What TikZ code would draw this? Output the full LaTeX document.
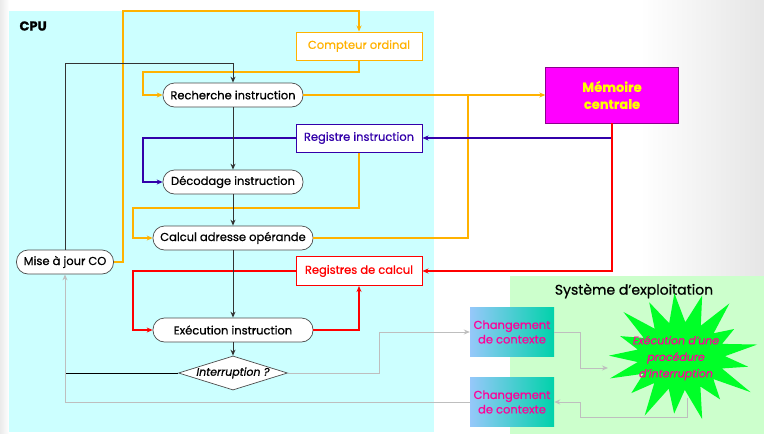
\documentclass[tikz,border=0pt]{standalone}
\usepackage{fontspec}
\setmainfont{Poppins}[FakeBold=0.7]
\usetikzlibrary{arrows.meta,shapes.geometric,calc}
\definecolor{cpubg}{RGB}{204,255,255}
\definecolor{osbg}{RGB}{204,255,204}
\definecolor{orng}{RGB}{255,178,0}
\definecolor{indg}{RGB}{51,0,170}
\definecolor{rred}{RGB}{255,0,0}
\definecolor{gline}{RGB}{190,190,190}
\definecolor{magc}{RGB}{255,0,255}
\definecolor{ylw}{RGB}{255,255,0}
\definecolor{pinkt}{RGB}{255,0,153}
\definecolor{chL}{RGB}{150,200,250}
\definecolor{chR}{RGB}{0,210,170}
\definecolor{starc}{RGB}{0,255,40}
\begin{document}
\begin{tikzpicture}[x=1pt,y=-1pt,
  txt/.style={font=\fontsize{11.5}{13}\selectfont},
  flow/.style={txt,draw=black!70,fill=white,rounded corners=11.5pt,minimum height=24pt,inner sep=0pt,line width=0.7pt},
  reg/.style={txt,draw,fill=white,minimum width=126pt,minimum height=28pt,inner sep=0pt,line width=1pt},
  chbox/.style={left color=chL,right color=chR,minimum width=84pt,minimum height=49pt,inner sep=0pt,align=center,text=pinkt,font=\fontsize{11.5}{14.5}\selectfont},
  tip/.style={-{Stealth[length=6pt,width=5pt]}},
  ol/.style={orng,line width=2pt,tip},
  pl/.style={indg,line width=2pt,tip},
  rl/.style={rred,line width=2pt,tip},
  bl/.style={black!80,line width=0.9pt,tip},
  gl/.style={gline,line width=1pt,tip}]
\useasboundingbox (0,0) rectangle (764,434);
\fill[white] (0,0) rectangle (764,434);
\shade[left color=white,right color=black!10] (640,0) rectangle (764,434);
\shade[left color=black!8,right color=white] (0,0) rectangle (9,434);
\fill[cpubg] (9,11) rectangle (434,432);
\fill[osbg] (510,276) rectangle (764,434);
\node[anchor=west,font=\fontsize{13}{15}\selectfont\bfseries] (cpu) at (16,26) {CPU};
\node[font=\fontsize{14}{16}\selectfont] (se) at (634,291) {Système d’exploitation};

% nodes
\node[reg,draw=orng,text=orng] (co) at (359,46) {Compteur ordinal};
\node[reg,draw=indg,text=indg] (ri) at (359,138) {Registre instruction};
\node[reg,draw=rred,text=rred,minimum height=29pt] (rc) at (359,271) {Registres de calcul};
\node[flow,minimum width=140pt] (rech) at (233,95) {Recherche instruction};
\node[flow,minimum width=140pt] (deco) at (233,182) {Décodage instruction};
\node[flow,minimum width=160pt] (calc) at (233,238) {Calcul adresse opérande};
\node[flow,minimum width=160pt] (exec) at (233,330) {Exécution instruction};
\node[flow,minimum width=97pt] (maj) at (65,262) {Mise à jour CO};
\node[diamond,aspect=3.2,draw=black!70,fill=white,inner sep=0pt,line width=0.7pt,font=\fontsize{11}{13}\selectfont\itshape] (inter) at (233,373) {Interruption ?};
\node[draw=magc!55!black,fill=magc,text=ylw,minimum width=133pt,minimum height=56pt,align=center,font=\fontsize{13}{17}\selectfont\bfseries] (mem) at (612,95) {Mémoire\\centrale};
\node[chbox] (ch1) at (512,332) {Changement\\de contexte};
\node[chbox] (ch2) at (512,402) {Changement\\de contexte};

\coordinate (j) at (468,95);
\coordinate (sw) at (608,368);
\coordinate (sb) at (687,398);

% orange
\draw[ol] (maj.east) -| (123,11) -| (co.north);
\draw[ol] (co.south) |- (143,72) |- (rech.west);
\draw[ol] (rech.east) -- (mem.west);
\draw[orng,line width=2pt] (calc.east) -| (j);
\draw[ol] (ri.south) |- (133,208) |- (calc.west);
% indigo
\draw[pl] (ri.west) -| (143,182) -- (deco.west);
\draw[pl] (ri.east -| mem.south) -- (ri.east);
% red
\draw[rl] (mem.south) |- (rc.east);
\draw[rl] (rc.west) -| (133,330) -- (exec.west);
\draw[rl] (exec.east) -| (rc.south);
% black
\draw[bl] (rech.south) -- (deco.north);
\draw[bl] (deco.south) -- (calc.north);
\draw[bl] (calc.south) -- (exec.north);
\draw[bl] (exec.south) -- (inter.north);
\draw[bl] (maj.north) |- (233,63) -- (rech.north);
\draw[black,line width=0.9pt] (inter.west) -- (inter.west -| maj.south);
% grey
\draw[gl] (inter.east) -| (379,332) -- (ch1.west);
\draw[gl] (ch2.west) -| (maj.south);
\draw[gl] (sb) |- (580,417) |- (ch2.east);

% star
\fill[starc] ([shift={(681,356)}]-105.6:44 and 34)
  \foreach \i/\f in {0/1.0,1/1.0,2/1.05,3/0.82,4/1.02,5/0.9,6/1.08,7/0.86,8/1.04,9/0.92,10/1.06,11/0.88,12/1.0,13/0.95,14/0.86,15/1.03,16/0.95}
  { -- ([shift={(681,356)}]{-95+\i*21.18}:{76*\f} and {63*\f})
    -- ([shift={(681,356)}]{-95+\i*21.18+10.59}:44 and 34) } -- cycle;
\node[text=pinkt,align=center,font=\fontsize{11}{16.5}\selectfont\itshape] (proc) at (676,358) {Exécution d’une\\procédure\\d’interruption};
\draw[gl] (ch1.east) -| (580,368) -- (sw);
\end{tikzpicture}
\end{document}
